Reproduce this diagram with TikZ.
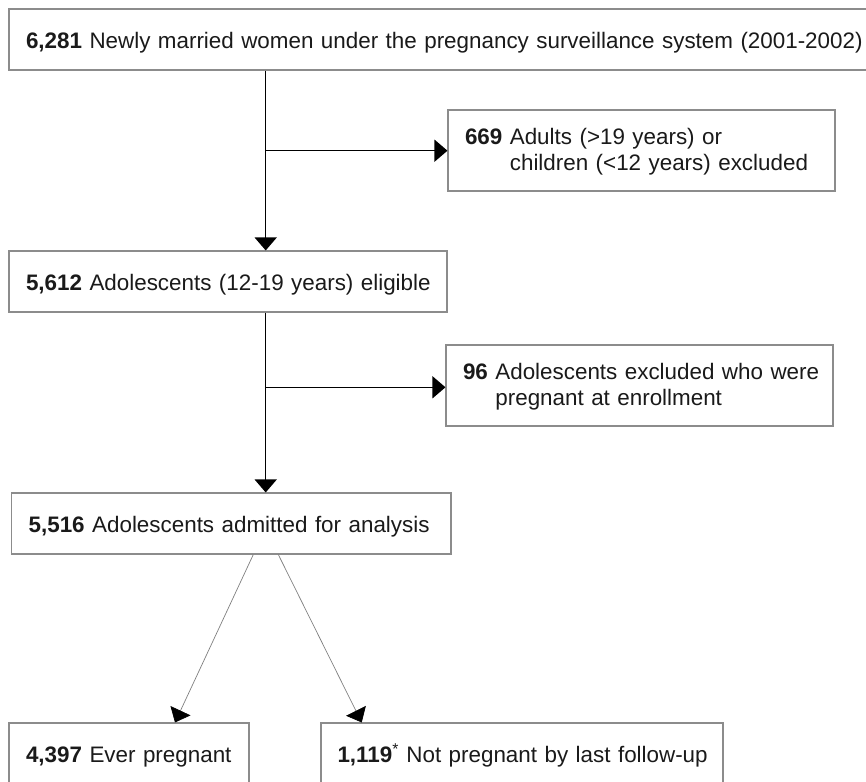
\documentclass[tikz,border=0pt]{standalone}
\usepackage{fontspec}
\setmainfont{Liberation Sans}
\usetikzlibrary{arrows.meta}
\definecolor{boxgray}{HTML}{8C8C8C}
\definecolor{txt}{HTML}{1A1A1A}
\begin{document}
\begin{tikzpicture}[x=1pt,y=-1pt,
  box/.style={draw=boxgray, line width=1.1pt, fill=white, inner xsep=17pt, inner ysep=0pt,
    align=left, font=\fontsize{22.4}{26.3}\selectfont, text=txt},
  one/.style={box, minimum height=61pt, text height=17.5pt, text depth=0pt},
  two/.style={box, minimum height=81pt, text height=13.5pt, text depth=26.3pt},
  link/.style={line width=1.3pt, draw=black, -{Triangle[length=13pt,width=22pt]}},
  slim/.style={line width=0.7pt, draw=gray, -{Triangle[length=13pt,width=22pt,color=black,fill=black]}}]
\fill[white] (0,0) rectangle (866,781);
\useasboundingbox (0,0) rectangle (866,781);

\node[one, text width=826pt] (top) at (439,39.5)
  {\mbox{\textbf{6,281} Newly married women under the pregnancy surveillance system (2001-2002)}};
\node[two, text width=353pt] (ex1) at (641.5,150.5)
  {\mbox{\textbf{669} Adults (>19 years) or}\\\mbox{\phantom{\textbf{669} }children (<12 years) excluded}};
\node[one, text width=404pt] (elig) at (228,281.5)
  {\mbox{\textbf{5,612} Adolescents (12-19 years) eligible}};
\node[two, text width=353pt] (ex2) at (639.5,385.5)
  {\mbox{\textbf{96} Adolescents excluded who were}\\\mbox{\phantom{\textbf{96} }pregnant at enrollment}};
\node[one, text width=405.3pt] (anal) at (231.3,523.5)
  {\mbox{\textbf{5,516} Adolescents admitted for analysis}};
\node[one, text width=206pt] (preg) at (129,753.5)
  {\mbox{\textbf{4,397} Ever pregnant}};
\node[one, inner xsep=16.5pt, text width=369pt] (notp) at (522,753.5)
  {\mbox{\textbf{1,119}\textsuperscript{*} Not pregnant by last follow-up}};

\coordinate (c1) at (265.7,150.7);
\coordinate (c2) at (265.7,387.3);
\coordinate (a1) at (253.3,554);
\coordinate (a2) at (278.3,554);
\coordinate (b1) at (175,723);
\coordinate (b2) at (361.7,723);

\draw[link] (top.south -| c1) -- (elig.north -| c1);
\draw[link] (c1) -- (ex1.west |- c1);
\draw[link] (elig.south -| c2) -- (anal.north -| c2);
\draw[link] (c2) -- (ex2.west |- c2);
\draw[slim] (a1 |- anal.south) -- (b1 |- preg.north);
\draw[slim] (a2 |- anal.south) -- (b2 |- notp.north);
\end{tikzpicture}
\end{document}
